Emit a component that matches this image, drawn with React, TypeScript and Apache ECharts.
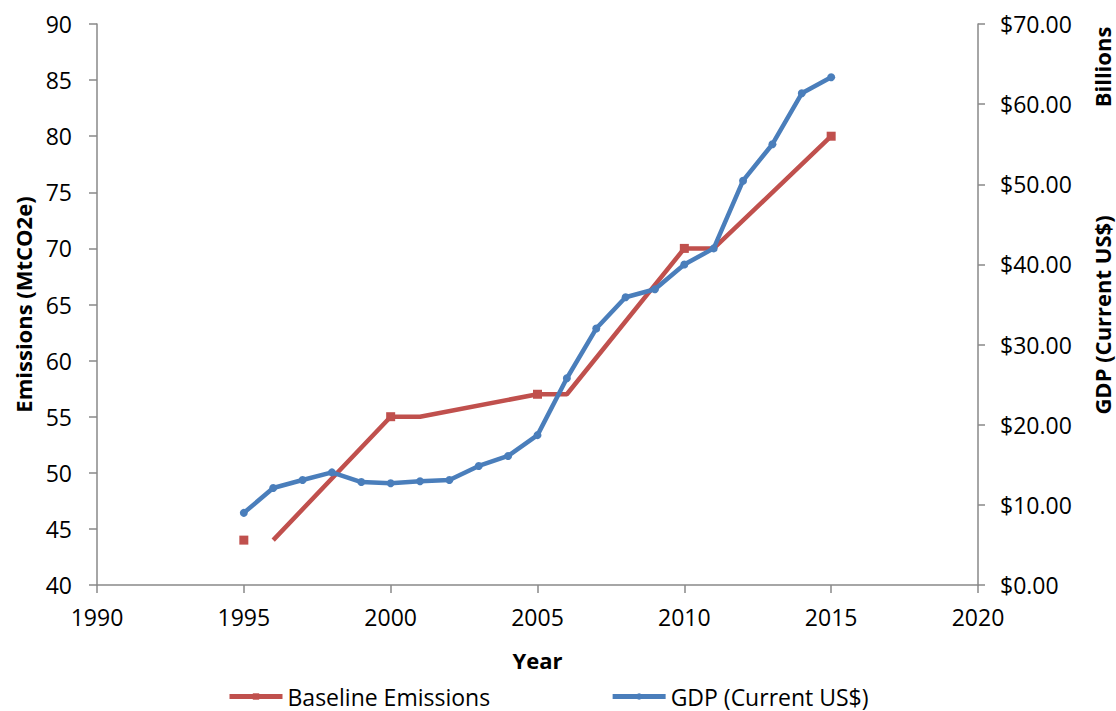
import React, { useEffect, useRef } from "react";
import * as echarts from "echarts";

const years = [1995, 1996, 1997, 1998, 1999, 2000, 2001, 2002, 2003, 2004, 2005, 2006, 2007, 2008, 2009, 2010, 2011, 2012, 2013, 2014, 2015];
const gdpBillions = [9.0, 12.1, 13.1, 14.05, 12.85, 12.7, 12.95, 13.1, 14.85, 16.1, 18.7, 25.8, 32.0, 35.9, 36.9, 40.0, 42.0, 50.45, 55.0, 61.35, 63.35];

const emissionYears = [1995, 1996, 2000, 2001, 2005, 2006, 2010, 2011, 2015];
const emissionValues = [44, 44, 55, 55, 57, 57, 70, 70, 80];
const emissionMarkerYears = [1995, 2000, 2005, 2010, 2015];
const emissionGapAfter = [1995];

const seriesNames = ["Baseline Emissions", "GDP (Current US$)"];

const RED = "#C0504D";
const BLUE = "#4A7EBB";
const AXIS = "#898989";
const FONT = "Open Sans";

export default function App() {
  const ref = useRef<HTMLDivElement>(null);

  useEffect(() => {
    if (!ref.current) return;
    const chart = echarts.init(ref.current, undefined, { renderer: "svg" });

    const emissionData: any[] = [];
    emissionYears.forEach((y, i) => {
      emissionData.push({
        value: [y, emissionValues[i]],
        symbolSize: emissionMarkerYears.includes(y) ? 9 : 0,
      });
      if (emissionGapAfter.includes(y)) {
        emissionData.push({ value: [y, "-"] });
      }
    });

    const gdpData = years.map((y, i) => [y, gdpBillions[i]]);

    chart.setOption({
      animation: false,
      backgroundColor: "#ffffff",
      grid: { left: 97, right: 138, top: 24, bottom: 126, containLabel: false },
      legend: {
        data: seriesNames,
        left: 222,
        top: 680,
        itemWidth: 53,
        itemHeight: 8,
        itemGap: 120,
        lineStyle: { width: 5 },
        textStyle: { fontFamily: FONT, fontSize: 23, color: "#000" },
      },
      xAxis: {
        type: "value",
        min: 1990,
        max: 2020,
        interval: 5,
        name: "Year",
        nameLocation: "middle",
        nameGap: 64,
        nameTextStyle: { fontFamily: FONT, fontSize: 22, fontWeight: "bold", color: "#000" },
        axisLine: { show: true, lineStyle: { color: AXIS, width: 1.5 } },
        axisTick: { show: true, length: 8, lineStyle: { color: AXIS, width: 1.5 } },
        axisLabel: { margin: 20, fontFamily: FONT, fontSize: 23, color: "#000", formatter: (v: number) => String(v) },
        splitLine: { show: false },
      },
      yAxis: [
        {
          type: "value",
          min: 40,
          max: 90,
          interval: 5,
          position: "left",
          name: "Emissions (MtCO2e)",
          nameLocation: "middle",
          nameGap: 74,
          nameTextStyle: { fontFamily: FONT, fontSize: 22, fontWeight: "bold", color: "#000", verticalAlign: "middle" },
          axisLine: { show: true, lineStyle: { color: AXIS, width: 1.5 } },
          axisTick: { show: true, length: 8, lineStyle: { color: AXIS, width: 1.5 } },
          axisLabel: { margin: 25, fontFamily: FONT, fontSize: 23, color: "#000" },
          splitLine: { show: false },
        },
        {
          type: "value",
          min: 0,
          max: 70,
          interval: 10,
          position: "right",
          axisLine: { show: true, lineStyle: { color: AXIS, width: 1.5 } },
          axisTick: { show: true, length: 7, lineStyle: { color: AXIS, width: 1.5 } },
          axisLabel: {
            margin: 22,
            fontFamily: FONT,
            fontSize: 23,
            color: "#000",
            formatter: (v: number) => "$" + v.toFixed(2),
          },
          splitLine: { show: false },
        },
      ],
      graphic: [
        {
          type: "text",
          x: 1102,
          y: 315,
          rotation: Math.PI / 2,
          style: {
            text: "GDP (Current US$)",
            fontFamily: FONT,
            fontSize: 22,
            fontWeight: "bold",
            fill: "#000",
            align: "center",
            verticalAlign: "middle",
          },
        },
        {
          type: "text",
          x: 1102,
          y: 67,
          rotation: Math.PI / 2,
          style: {
            text: "Billions",
            fontFamily: FONT,
            fontSize: 22,
            fontWeight: "bold",
            fill: "#000",
            align: "center",
            verticalAlign: "middle",
          },
        },
      ],
      series: [
        {
          name: seriesNames[0],
          type: "line",
          yAxisIndex: 0,
          data: emissionData,
          symbol: "rect",
          symbolSize: 9,
          showAllSymbol: true,
          connectNulls: false,
          lineStyle: { color: RED, width: 4.5 },
          itemStyle: { color: RED },
          z: 2,
        },
        {
          name: seriesNames[1],
          type: "line",
          yAxisIndex: 1,
          data: gdpData,
          symbol: "circle",
          symbolSize: 8,
          showAllSymbol: true,
          lineStyle: { color: BLUE, width: 4.5 },
          itemStyle: { color: BLUE },
          z: 3,
        },
      ],
    });

    return () => chart.dispose();
  }, []);

  return (
    <div
      ref={ref}
      style={{ position: "absolute", left: 0, top: 0, width: 1116, height: 711 }}
    />
  );
}
